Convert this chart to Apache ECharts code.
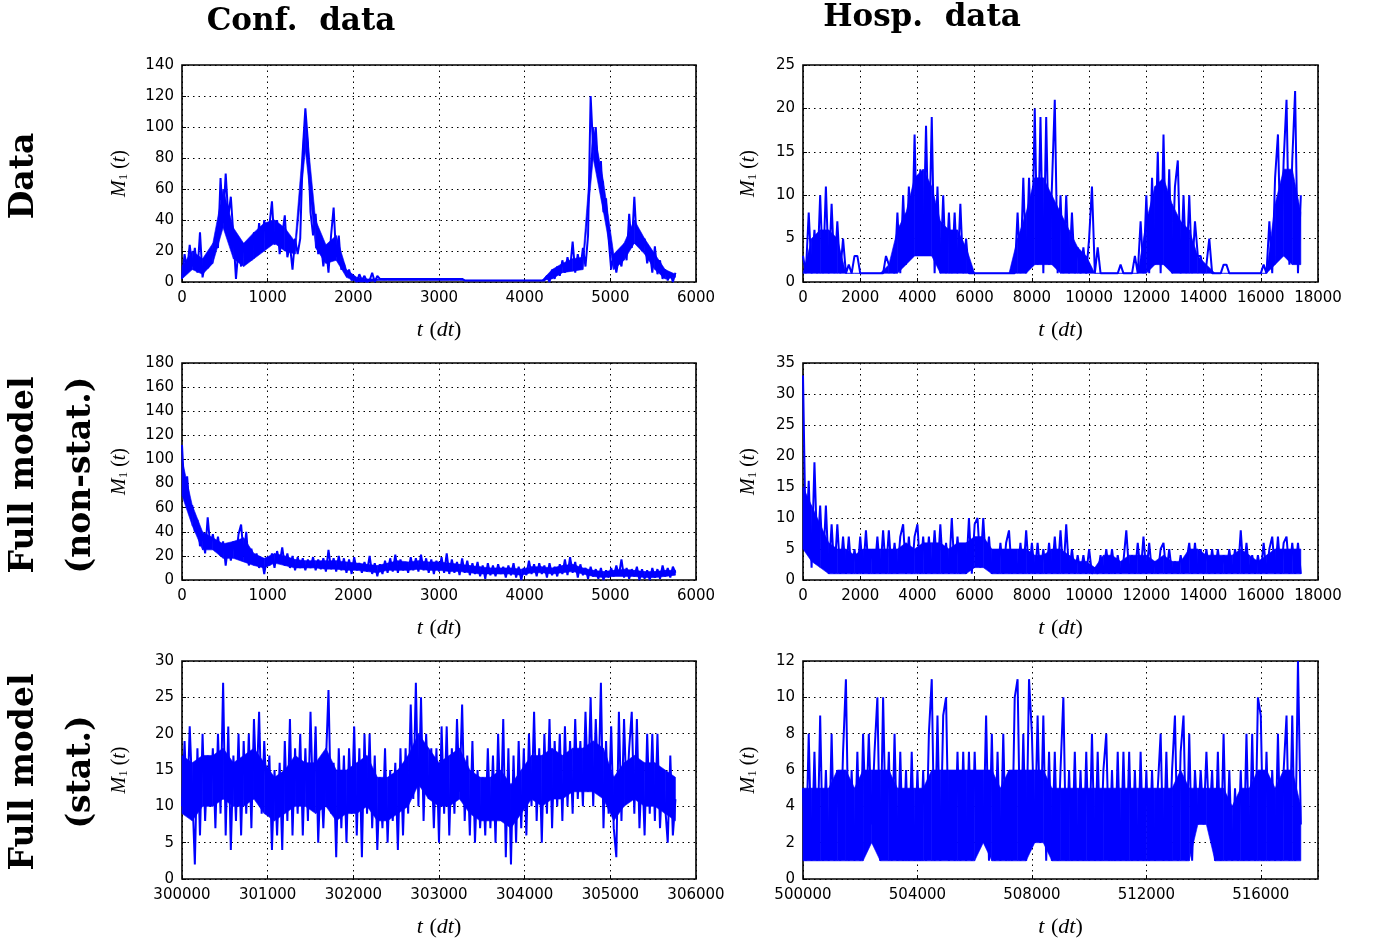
<!DOCTYPE html>
<html>
<head>
<meta charset="utf-8">
<script src="https://cdn.jsdelivr.net/npm/echarts@6/dist/echarts.min.js"></script>
<style>
  html, body { margin: 0; background: #fff; }
  #main { width: 1374px; height: 946px; }
</style>
</head>
<body>
<div id="main"></div>
<script>
// sample spacing (in dt) used when reading the curves off the figure
const confStep = 30;
const hospStep = 100;
// the dense core of each noisy band, read at a coarser spacing
const confCoreStep = 120;
const hospCoreStep = 300;

// Conf. data / Data row
const confData = [
  2,18,8,24,10,22,6,32,3,12, 9,12,20,28,22,67,38,70,42,55,
  30,2,22,10,25,12,26,14,32,18, 38,24,40,22,36,52,24,40,18,30,
  43,16,24,8,28,18,28,85,112,90, 45,30,44,18,26,10,24,6,30,48,
  16,30,8,12,4,8,1,3,0,5, 1,4,0,1,6,0,4,2,
  2,2,2,2,2,2,2,2,2,2, 2,2,2,2,2,2,2,2,2,2, 2,2,2,2,2,2,2,2,2,2, 2,2,
  1,1,1,1,1,1,1,1,1,1, 1,1,1,1,1,1,1,1,1,1, 1,1,1,1,1,1,1,1,1,1, 1,1,
  4,0,8,2,10,4,14,6,16,8, 26,6,18,8,22,10,30,120,85,100,
  70,78,45,54,28,8,18,6,16,10, 24,14,44,22,55,25,32,20,28,12,
  20,6,23,5,14,2,8,1,6,0, 6
];
const confDataLo = [2,8,5,12,35,15,10,15,20,25, 20,18,85,22,12,14,3,0,0,1,
  1,1,1,1,1,1,1,1,1,1, 1,1,1,1,1,1, 2,6,7,8,80,45,8,14,25,18,8,2,3];
const confDataHi = [10,20,15,25,60,35,25,32,38,40, 35,26,108,40,24,30,8,3,2,2,
  1,1,1,1,1,1,1,1,1,1, 1,1,1,1,1,1, 8,12,15,16,100,65,18,25,40,28,18,8,5];

// Hosp. data / Data row
const hospData = [
  3,1,8,1,6,1,10,1,11,1, 9,1,7,1,5,1,2,1,3,3,
  1,1,1,1,1,1,1,1,1,3, 2,2,1,8,1,10,2,11,3,17,
  3,13,3,18,3,19,1,11,1,10, 1,8,1,8,1,9,1,5,1,1,
  1,1,1,1,1,1,1,1,1,1, 1,1,1,1,1,8,1,12,1,12,
  2,20,2,19,1,19,2,11,21,1, 10,1,10,1,8,1,4,1,4,1,
  5,11,1,4,1,1,1,1,1,1, 1,2,1,1,1,1,3,1,7,1,
  10,1,12,2,15,1,17,2,13,1, 11,14,1,10,1,10,1,7,3,3,
  1,2,5,1,1,1,1,2,2,1, 1,1,1,1,1,1,1,1,1,1,
  1,2,1,7,1,12,17,3,14,21, 2,14,22,1,10
];
const hospDataLo = [1,1,1,1,1,1,1,1,1,1, 1,1,2,3,3,3,1,1,1,1, 1,1,1,1,1,1,1,2,2,2,
  1,1,1,1,1,1,1,1,1,1, 1,2,2,1,1,1,1,1,1,1, 1,1,1,1,1,2,3,2,2];
const hospDataHi = [1,5,6,6,5,1,1,1,1,1, 2,6,8,12,13,11,7,6,6,4, 1,1,1,1,1,5,8,12,12,10,
  8,6,4,3,1,1,1,1,1,1, 7,11,12,9,7,6,3,2,1,1, 1,1,1,1,1,9,13,13,8];

// Full model (non-stat.)
const confNonStat = [
  112,70,86,56,62,40,50,28,38,22, 52,28,38,24,36,20,32,12,30,16,
  32,18,38,46,20,40,12,26,14,22, 10,18,5,18,12,22,10,24,14,27,
  12,22,10,20,8,19,10,18,8,17, 10,19,8,17,9,18,7,25,9,18,
  7,20,8,18,6,17,5,19,8,14, 6,15,7,20,5,14,3,13,5,16,
  6,18,7,21,6,17,8,15,6,19, 8,18,7,21,8,18,6,17,5,16,
  7,19,6,22,5,17,6,15,4,18, 6,16,4,14,5,15,3,12,1,14,
  4,12,3,13,5,11,2,12,4,14, 2,11,0,10,4,16,5,13,3,14,
  5,12,2,14,4,11,3,13,5,17, 4,19,6,15,2,13,4,10,1,11,
  3,9,1,10,0,8,2,10,3,12, 4,17,2,10,1,9,3,11,0,9,
  1,8,0,10,2,9,1,12,3,10, 2,11,6
];
const confNonStatLo = [70,45,25,25,18,18,15,12,10,14, 12,10,10,10,9,9,8,8,7,6,
  8,8,8,9,8,8,7,7,6,5, 5,5,5,4,6,6,5,6,7,5, 3,2,3,3,3,2,2,3,4];
const confNonStatHi = [100,62,40,35,30,32,35,22,18,22, 20,17,16,16,16,16,15,14,13,12,
  14,16,15,16,15,15,14,13,12,11, 10,10,10,9,11,11,10,12,13,10, 8,7,8,9,8,7,7,8,8];

const hospNonStat = [
  33,5,16,2,19,4,12,2,12,1, 9,1,9,1,7,1,7,1,5,1,
  7,1,8,1,5,1,7,1,8,1, 8,1,6,1,7,9,1,7,1,7,
  9,1,7,1,7,1,8,1,9,1, 6,1,10,1,7,1,5,1,10,1,
  9,10,2,10,2,7,1,5,1,6, 1,6,8,1,5,1,6,1,8,1,
  6,1,6,1,5,1,6,1,7,1, 8,1,9,1,5,1,4,1,4,1,
  5,1,2,1,4,1,5,1,5,1, 4,1,3,8,1,4,1,6,1,7,
  1,6,1,3,1,5,6,1,5,1, 3,1,4,1,3,6,1,6,1,5,
  1,5,1,5,1,5,1,4,1,5, 1,5,1,8,1,6,1,4,1,4,
  1,6,1,5,7,1,7,1,6,7, 1,6,1,6,1
];
const hospNonStatLo = [5,3,2,1,1,1,1,1,1,1, 1,1,1,1,1,1,1,1,1,1, 2,2,1,1,1,1,1,1,1,1,
  1,1,1,1,1,1,1,1,1,1, 1,1,1,1,1,1,1,1,1,1, 1,1,1,1,1,1,1,1,1];
const hospNonStatHi = [15,12,9,6,5,5,4,5,5,5, 5,5,6,5,6,6,6,5,6,6, 7,7,5,5,5,5,5,4,4,5,
  5,4,3,3,2,4,4,3,4,4, 4,3,4,3,3,5,5,4,4,4, 4,5,4,3,4,5,5,5,5];

// Full model (stat.)
const confStat = [
  10,19,9,21,12,2,18,6,20,8, 17,10,18,7,20,9,27,6,21,4,
  17,8,20,6,19,9,20,7,22,12, 23,9,19,11,17,4,15,6,16,4,
  19,8,22,6,18,9,20,6,18,8, 23,10,21,5,15,7,16,26,9,16,
  3,18,7,17,5,18,9,21,6,18, 3,20,9,20,7,17,4,14,7,18,
  5,15,8,16,4,18,6,18,9,24, 11,27,10,25,8,20,11,18,7,18,
  5,21,9,21,6,18,9,22,12,24, 8,17,6,19,5,15,7,14,6,18,
  7,17,5,20,8,22,3,18,2,17, 5,19,7,18,6,20,10,23,8,18,
  5,20,9,22,7,19,10,20,8,21, 10,19,9,22,11,19,10,23,12,25,
  10,22,12,27,7,19,9,21,7,3, 23,8,22,11,18,23,9,22,7,16,
  6,20,9,20,8,20,7,15,10,5, 17,6,11
];
const confStatLo = [9,8,10,10,11,10,10,11,9,8, 9,10,10,9,10,8,9,9,10,8,
  8,9,10,13,11,10,10,11,9,8, 8,8,7,9,11,10,11,11,12,12, 12,11,8,10,11,10,10,9,8];
const confStatHi = [17,16,17,17,18,16,17,18,16,14, 15,17,16,16,18,15,15,16,17,14,
  14,15,17,20,18,16,17,18,15,14, 14,15,13,15,17,17,18,17,18,18, 19,18,14,16,17,16,16,15,14];

const hospStat = [
  5,1,8,1,7,1,9,1,6,1, 8,1,6,1,7,11,1,6,1,7,
  1,8,3,8,3,7,10,1,10,2, 7,1,8,1,7,1,6,1,7,1,
  6,1,6,1,8,11,1,9,1,9, 10,1,6,1,7,1,7,1,7,1,
  7,2,6,2,9,1,8,1,7,1, 8,1,6,1,10,11,1,8,1,11,
  8,2,9,2,9,1,7,1,7,1, 6,10,1,6,1,7,1,6,1,7,
  1,8,1,7,1,6,8,1,6,1, 7,1,7,1,7,1,6,1,7,1,
  6,1,6,1,5,8,1,7,1,6, 9,1,7,9,1,8,1,6,3,6,
  3,7,3,6,1,7,1,8,1,6, 1,5,1,6,1,8,1,8,1,10,
  9,1,7,1,6,1,8,1,6,9, 1,9,1,12,3
];
const hospStatLo = [1,1,1,1,1,1,1,1,2,1, 1,1,1,1,1,1,1,1,1,1, 1,2,1,1,1,1,1,2,2,1,
  1,1,1,1,1,1,1,1,1,1, 1,1,1,1,1,1,3,3,1,1, 1,1,1,1,1,1,1,1,1];
const hospStatHi = [5,5,5,5,6,6,5,6,6,6, 6,5,5,5,5,6,6,6,6,6, 6,6,6,5,6,6,6,6,6,5,
  5,5,5,5,5,5,5,5,5,5, 5,5,5,5,6,5,5,5,5,5, 4,5,5,6,6,5,6,6,4];

// panel order: row by row, left (conf) then right (hosp)
const panelSeries = [confData, hospData, confNonStat, hospNonStat, confStat, hospStat];
const panelLo = [confDataLo, hospDataLo, confNonStatLo, hospNonStatLo, confStatLo, hospStatLo];
const panelHi = [confDataHi, hospDataHi, confNonStatHi, hospNonStatHi, confStatHi, hospStatHi];
const panelStart = [0, 0, 0, 0, 300000, 500000];
const xTicks = [[0,6000,1000],[0,18000,2000],[0,6000,1000],[0,18000,2000],[300000,306000,1000],[500000,518000,4000]];
const yTicks = [[0,140,20],[0,25,5],[0,180,20],[0,35,5],[0,30,5],[0,12,2]];

const colTitles = ['Conf.  data', 'Hosp.  data'];
const rowTitles = [['Data'], ['Full model', '(non-stat.)'], ['Full model', '(stat.)']];

const boxes = [
  {left: 182, top: 65,  width: 514, height: 217},
  {left: 803, top: 65,  width: 515, height: 217},
  {left: 182, top: 363, width: 514, height: 217},
  {left: 803, top: 363, width: 515, height: 217},
  {left: 182, top: 661, width: 514, height: 218},
  {left: 803, top: 661, width: 515, height: 218}
];

const tickFont = {fontFamily: 'DejaVu Sans', fontSize: 15, color: '#000'};
const mathFont = 'Liberation Serif';
const blue = '#0000ff';
const dotted = {color: '#000', width: 1, type: [1.5, 4]};

// polygon between the lower and upper edge of the dense core, one per segment
function renderCore(params, api) {
  const a = api.coord([api.value(0), api.value(1)]);
  const b = api.coord([api.value(3), api.value(4)]);
  const c = api.coord([api.value(3), api.value(5)]);
  const d = api.coord([api.value(0), api.value(2)]);
  return {type: 'polygon', shape: {points: [a, b, c, d]}, style: {fill: blue, stroke: blue, lineWidth: 0.6}};
}

let grids = [], xAxes = [], yAxes = [], series = [];
boxes.forEach(function (b, i) {
  const isConf = i % 2 === 0;
  const step = isConf ? confStep : hospStep;
  const coreStep = isConf ? confCoreStep : hospCoreStep;
  grids.push(Object.assign({show: true, borderColor: '#000', borderWidth: 1.6, backgroundColor: 'transparent'}, b));
  xAxes.push({
    type: 'value', gridIndex: i,
    min: xTicks[i][0], max: xTicks[i][1], interval: xTicks[i][2],
    axisLine: {show: false},
    axisTick: {inside: true, length: 4, lineStyle: {color: '#000'}},
    axisLabel: Object.assign({margin: 9, showMaxLabel: i !== 5, formatter: function (v) { return String(v); }}, tickFont),
    splitLine: {show: true, lineStyle: dotted},
    name: '{i|t}  {r|(}{i|dt}{r|)}',
    nameLocation: 'middle', nameGap: 37,
    nameTextStyle: {rich: {
      i: {fontFamily: mathFont, fontStyle: 'italic', fontSize: 22, color: '#000'},
      r: {fontFamily: mathFont, fontSize: 22, color: '#000'}
    }}
  });
  yAxes.push({
    type: 'value', gridIndex: i,
    min: yTicks[i][0], max: yTicks[i][1], interval: yTicks[i][2],
    axisLine: {show: false},
    axisTick: {inside: true, length: 4, lineStyle: {color: '#000'}},
    axisLabel: Object.assign({margin: 8}, tickFont),
    splitLine: {show: true, lineStyle: dotted},
    name: '{m|M}{s|1}{r| (}{m|t}{r|)}',
    nameLocation: 'middle', nameRotate: 90,
    nameGap: isConf ? 52 : 44,
    nameTextStyle: {rich: {
      m: {fontFamily: mathFont, fontStyle: 'italic', fontSize: 20, color: '#000'},
      r: {fontFamily: mathFont, fontSize: 20, color: '#000'},
      s: {fontFamily: mathFont, fontSize: 13, color: '#000', verticalAlign: 'bottom'}
    }}
  });
  const lo = panelLo[i], hi = panelHi[i];
  let segs = [];
  for (let k = 0; k + 1 < lo.length; k++) {
    const t0 = panelStart[i] + k * coreStep;
    segs.push([t0, lo[k], hi[k], t0 + coreStep, lo[k + 1], hi[k + 1]]);
  }
  series.push({
    type: 'custom', xAxisIndex: i, yAxisIndex: i, silent: true,
    data: segs, renderItem: renderCore,
    encode: {x: [0, 3], y: [1, 2, 4, 5]}
  });
  series.push({
    type: 'line', xAxisIndex: i, yAxisIndex: i,
    data: panelSeries[i].map(function (v, k) { return [panelStart[i] + k * step, v]; }),
    showSymbol: false, sampling: 'none',
    lineStyle: {color: blue, width: 2},
    clip: true
  });
});

const titleFont = 'bold 31px "DejaVu Serif"';
let graphic = [
  {type: 'text', x: 301, y: 22, style: {text: colTitles[0], font: titleFont, fill: '#000', textAlign: 'center', textVerticalAlign: 'middle'}},
  {type: 'text', x: 922, y: 18, style: {text: colTitles[1], font: titleFont, fill: '#000', textAlign: 'center', textVerticalAlign: 'middle'}}
];
const rowCenters = [176, 475, 772];
rowTitles.forEach(function (lines, r) {
  lines.forEach(function (txt, j) {
    graphic.push({
      type: 'text', x: j === 0 ? 24 : 81, y: rowCenters[r], rotation: Math.PI / 2,
      style: {text: txt, font: 'bold 33px "DejaVu Serif"', fill: '#000', textAlign: 'center', textVerticalAlign: 'middle'}
    });
  });
});

let myChart = echarts.init(document.getElementById('main'));
myChart.setOption({
  animation: false,
  backgroundColor: '#fff',
  grid: grids,
  xAxis: xAxes,
  yAxis: yAxes,
  series: series,
  graphic: graphic
});
</script>
</body>
</html>
